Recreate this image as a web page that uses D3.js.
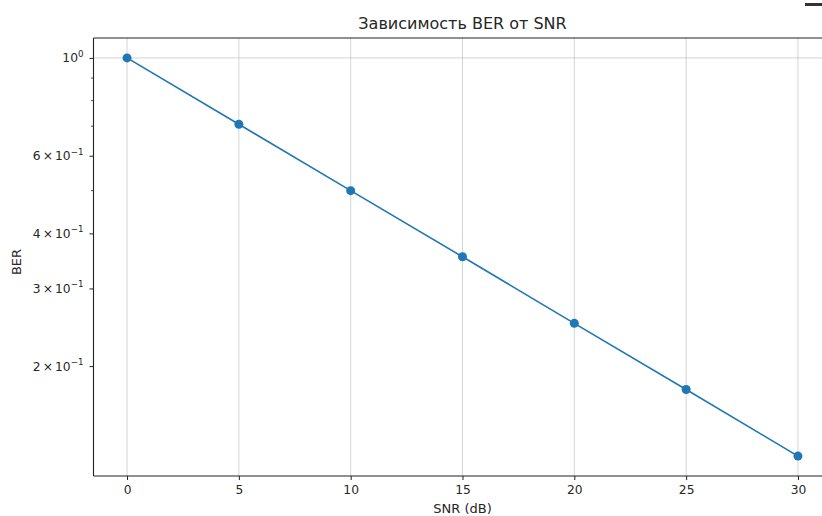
<!DOCTYPE html>
<html>
<head>
<meta charset="utf-8">
<script src="https://cdn.jsdelivr.net/npm/d3@7"></script>
<style>
  body { margin: 0; background: #fff; }
  text { font-family: "DejaVu Sans", sans-serif; fill: #262626; }
</style>
</head>
<body>
<div id="chart"></div>
<script>
// data
var snr = [0, 5, 10, 15, 20, 25, 30];
var ber = [1.0, 0.707, 0.5, 0.354, 0.25, 0.177, 0.125];
var xTicks = [0, 5, 10, 15, 20, 25, 30];
var yMajor = [1];
var yMinorLabelled = [0.2, 0.3, 0.4, 0.6];
var yMinorPlain = [0.5, 0.7, 0.8, 0.9];

var W = 822, H = 516;
// plot box (right edge lies beyond the cropped screenshot)
var box = {left: 93.5, top: 38, bottom: 476, right: 831.5};

var svg = d3.select("#chart").append("svg")
    .attr("width", W)
    .attr("height", H);

// x range padded 5% like matplotlib
var xPad = (d3.max(snr) - d3.min(snr)) * 0.05;
var x = d3.scaleLinear()
    .domain([d3.min(snr) - xPad, d3.max(snr) + xPad])
    .range([box.left, box.right]);

var lo = Math.log10(d3.min(ber)), hi = Math.log10(d3.max(ber));
var yPad = (hi - lo) * 0.05;
var y = d3.scaleLog()
    .domain([Math.pow(10, lo - yPad), Math.pow(10, hi + yPad)])
    .range([box.bottom, box.top]);

// grid
svg.append("g").selectAll("line")
    .data(xTicks)
    .enter().append("line")
    .attr("x1", function(d) { return x(d); })
    .attr("x2", function(d) { return x(d); })
    .attr("y1", box.top).attr("y2", box.bottom)
    .attr("stroke", "#b0b0b0").attr("stroke-opacity", 0.55)
    .attr("stroke-width", 1);
svg.append("g").selectAll("line")
    .data(yMajor)
    .enter().append("line")
    .attr("x1", box.left).attr("x2", W)
    .attr("y1", function(d) { return y(d); })
    .attr("y2", function(d) { return y(d); })
    .attr("stroke", "#b0b0b0").attr("stroke-opacity", 0.55)
    .attr("stroke-width", 1);

// x axis
var xAxis = svg.append("g")
    .attr("transform", "translate(0," + box.bottom + ")")
    .call(d3.axisBottom(x).tickValues(xTicks).tickSize(4).tickPadding(5));
xAxis.select(".domain").remove();
xAxis.selectAll("text")
    .style("font-size", "12.3px")
    .style("font-family", "DejaVu Sans")
    .attr("fill", "#262626");
xAxis.selectAll("line").attr("stroke", "#222").attr("stroke-width", 1);

// y axis ticks, labels done by hand for matplotlib style exponents
var yAxis = svg.append("g")
    .attr("transform", "translate(" + box.left + ",0)")
    .call(d3.axisLeft(y).tickValues(yMajor.concat(yMinorLabelled)).tickSize(4).tickFormat(""));
yAxis.select(".domain").remove();
yAxis.selectAll("line").attr("stroke", "#222").attr("stroke-width", 1);

svg.append("g").selectAll("line")
    .data(yMinorPlain)
    .enter().append("line")
    .attr("x1", box.left - 2.5).attr("x2", box.left)
    .attr("y1", function(d) { return y(d); })
    .attr("y2", function(d) { return y(d); })
    .attr("stroke", "#222").attr("stroke-width", 0.8);

function addLabel(v, mant, exp) {
    var t = svg.append("text")
        .attr("x", box.left - 10)
        .attr("y", y(v) + 4.5)
        .attr("text-anchor", "end")
        .style("font-size", "12.3px");
    if (mant) t.append("tspan").text(mant + "\u2006\u00d7\u200610");
    else t.append("tspan").text("10");
    t.append("tspan")
        .attr("dy", -5.5)
        .style("font-size", "8.7px")
        .text(exp);
}
addLabel(1, null, "0");
yMinorLabelled.forEach(function(v) {
    addLabel(v, Math.round(v * 10), "\u22121");
});

// spines
svg.append("line").attr("x1", box.left).attr("x2", box.left).attr("y1", box.top).attr("y2", box.bottom)
    .attr("stroke", "#222").attr("stroke-width", 1.1);
svg.append("line").attr("x1", box.left).attr("x2", W).attr("y1", box.bottom).attr("y2", box.bottom)
    .attr("stroke", "#222").attr("stroke-width", 1.1);
svg.append("line").attr("x1", box.left).attr("x2", W).attr("y1", box.top).attr("y2", box.top)
    .attr("stroke", "#222").attr("stroke-width", 1.1);

// line + markers
var line = d3.line()
    .x(function(d, i) { return x(snr[i]); })
    .y(function(d) { return y(d); });
svg.append("path")
    .datum(ber)
    .attr("d", line)
    .attr("fill", "none")
    .attr("stroke", "#1f77b4")
    .attr("stroke-width", 1.6);
svg.selectAll(".dot")
    .data(ber)
    .enter().append("circle")
    .attr("class", "dot")
    .attr("cx", function(d, i) { return x(snr[i]); })
    .attr("cy", function(d) { return y(d); })
    .attr("r", 4.5)
    .attr("fill", "#1f77b4");

// titles
svg.append("text")
    .attr("x", (box.left + box.right) / 2)
    .attr("y", 29)
    .attr("text-anchor", "middle")
    .style("font-size", "16px")
    .text("Зависимость BER от SNR");
svg.append("text")
    .attr("x", (box.left + box.right) / 2)
    .attr("y", 513)
    .attr("text-anchor", "middle")
    .style("font-size", "13px")
    .text("SNR (dB)");
svg.append("text")
    .attr("transform", "translate(21," + 262 + ") rotate(-90)")
    .attr("text-anchor", "middle")
    .style("font-size", "13px")
    .text("BER");

// small dark mark in top right corner of the screenshot
svg.append("rect")
    .attr("x", 805).attr("y", 3).attr("width", 17).attr("height", 3)
    .attr("fill", "#333");
</script>
</body>
</html>
